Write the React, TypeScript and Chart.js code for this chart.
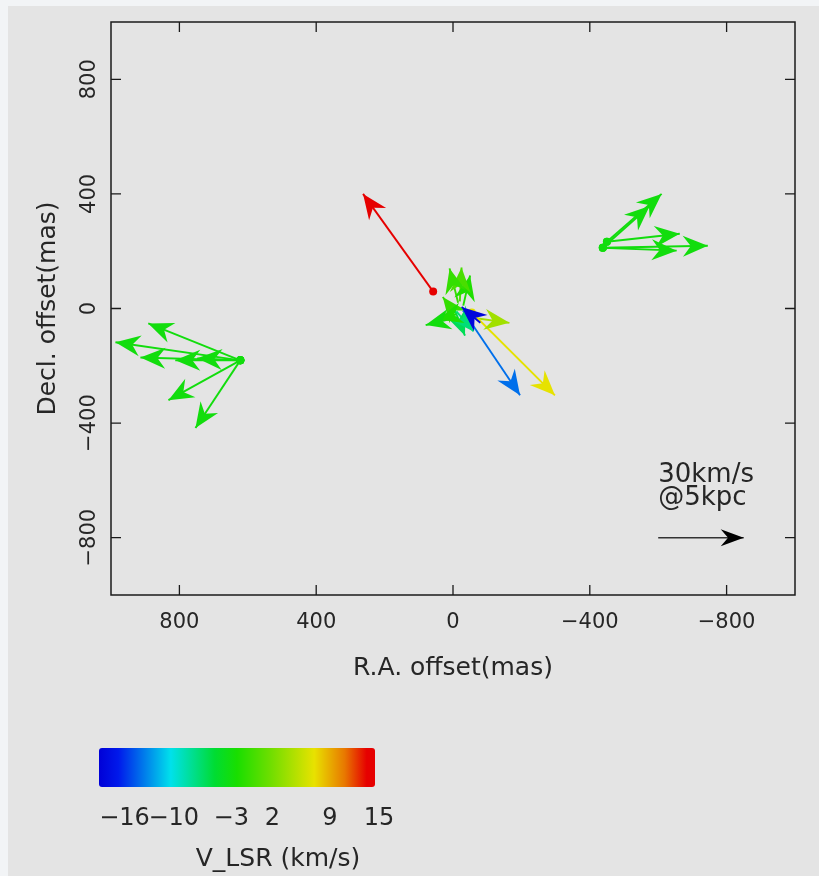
import React, { useEffect, useRef } from "react";
import { Chart, registerables } from "chart.js";

Chart.register(...registerables);

// ---------- data ----------
const xTickValues = [800, 400, 0, -400, -800];
const yTickValues = [800, 400, 0, -400, -800];
const axisMin = -1000;
const axisMax = 1000;

// maser proper-motion vectors (mas offsets): start -> end, colour by V_LSR (km/s)
const raStart = [
  -80, -29, -55, -73, -15, -10, -15, -20, -30, -10, -5, -5,
  58,
  622, 622, 622, 622, 622, 622, 622,
  -450, -438, -450, -438, -438,
];
const decStart = [
  -50, -7, -14, -35, -30, -20, 20, 25, 10, -10, -5, -15,
  59,
  -181, -181, -181, -181, -181, -181, -181,
  233, 212, 233, 212, 212,
];
const raEnd = [
  -25, -196, -298, -165, 80, 45, 10, -25, -50, -60, -35, 30,
  263,
  891, 987, 914, 812, 748, 832, 753,
  -610, -575, -663, -745, -654,
];
const decEnd = [
  5, -303, -303, -50, -58, -38, 140, 143, 115, -80, -95, 40,
  400,
  -52, -118, -171, -181, -174, -320, -417,
  400, 358, 261, 219, 202,
];
const vlsr = [
  -18.5, -14, 7, 4, -3, -2, -1, 0, -2, -7, -6, -1,
  13.5,
  -3, -3, -3, -3, -3, -3, -3,
  -3, -3, -3, -3, -3,
];
const hasDot = [
  false, false, true, false, false, false, false, false, false, false, false, false,
  true,
  true, true, true, true, true, true, true,
  true, true, true, true, true,
];

// reference arrow: 30 km/s at 5 kpc
const scaleRa = [-600, -850];
const scaleDec = [-800, -800];
const scaleLabel = ["30km/s", "@5kpc"];

// colour bar
const cbTicks = [-16, -10, -3, 2, 9, 15];
const cbMin = -19.1;
const cbMax = 14.5;
const cbTitle = "V_LSR (km/s)";
const xTitle = "R.A. offset(mas)";
const yTitle = "Decl. offset(mas)";

// ---------- styling helpers ----------
const FONT = '"DejaVu Sans", "Liberation Sans", sans-serif';
const TEXT = "#262626";

const cmapStops: [number, number, number, number][] = [
  [0.0, 0, 0, 215],
  [0.07, 0, 25, 235],
  [0.26, 0, 225, 235],
  [0.42, 0, 220, 50],
  [0.5, 25, 222, 0],
  [0.62, 110, 222, 0],
  [0.78, 232, 226, 0],
  [0.89, 232, 120, 0],
  [0.97, 230, 0, 0],
  [1.0, 230, 0, 0],
];

function cmap(t: number): string {
  const tt = Math.max(0, Math.min(1, t));
  for (let i = 1; i < cmapStops.length; i++) {
    const a = cmapStops[i - 1];
    const b = cmapStops[i];
    if (tt <= b[0]) {
      const f = (tt - a[0]) / (b[0] - a[0] || 1);
      const r = Math.round(a[1] + (b[1] - a[1]) * f);
      const g = Math.round(a[2] + (b[2] - a[2]) * f);
      const bl = Math.round(a[3] + (b[3] - a[3]) * f);
      return `rgb(${r},${g},${bl})`;
    }
  }
  return "rgb(230,0,0)";
}
const velColor = (v: number) => cmap((v - cbMin) / (cbMax - cbMin));
const fmt = (v: number) => (v < 0 ? "\u2212" + Math.abs(v) : String(v));

function drawHead(
  ctx: CanvasRenderingContext2D,
  x0: number, y0: number, x1: number, y1: number,
  color: string, len: number, half: number
) {
  const a = Math.atan2(y1 - y0, x1 - x0);
  const ux = Math.cos(a), uy = Math.sin(a);
  const nx = -uy, ny = ux;
  const bx = x1 - ux * len, by = y1 - uy * len;
  const mx = x1 - ux * len * 0.68, my = y1 - uy * len * 0.68;
  ctx.beginPath();
  ctx.moveTo(x1, y1);
  ctx.lineTo(bx + nx * half, by + ny * half);
  ctx.lineTo(mx, my);
  ctx.lineTo(bx - nx * half, by - ny * half);
  ctx.closePath();
  ctx.fillStyle = color;
  ctx.fill();
}

const decorPlugin = {
  id: "decor",
  beforeDraw(chart: any) {
    const { ctx, width, height } = chart;
    ctx.save();
    ctx.fillStyle = "#f2f4f6";
    ctx.fillRect(0, 0, width, height);
    ctx.fillStyle = "#e4e4e4";
    ctx.fillRect(8, 6, width - 8, height - 6);
    ctx.restore();
  },
  afterDatasetsDraw(chart: any) {
    const { ctx } = chart;
    const xs = chart.scales.x;
    const ys = chart.scales.y;
    const dsets = chart.data.datasets;
    ctx.save();
    for (let i = dsets.length - 1; i >= 0; i--) {
      const ds = dsets[i];
      const d = ds.data;
      const x0 = xs.getPixelForValue(d[0].x);
      const y0 = ys.getPixelForValue(d[0].y);
      const x1 = xs.getPixelForValue(d[1].x);
      const y1 = ys.getPixelForValue(d[1].y);
      drawHead(ctx, x0, y0, x1, y1, ds.headColor, ds.isScale ? 23 : 25, ds.isScale ? 8.5 : 10.5);
    }
    ctx.restore();
  },
  afterDraw(chart: any) {
    const { ctx, chartArea: ca } = chart;
    const xs = chart.scales.x;
    const ys = chart.scales.y;
    ctx.save();
    // frame
    ctx.strokeStyle = "#1a1a1a";
    ctx.lineWidth = 1.5;
    ctx.strokeRect(ca.left, ca.top, ca.right - ca.left, ca.bottom - ca.top);
    // inward ticks
    const tl = 10;
    ctx.lineWidth = 1.3;
    ctx.beginPath();
    xs.ticks.forEach((t: any) => {
      const px = xs.getPixelForValue(t.value);
      ctx.moveTo(px, ca.bottom); ctx.lineTo(px, ca.bottom - tl);
      ctx.moveTo(px, ca.top); ctx.lineTo(px, ca.top + tl);
    });
    ys.ticks.forEach((t: any) => {
      const py = ys.getPixelForValue(t.value);
      ctx.moveTo(ca.left, py); ctx.lineTo(ca.left + tl, py);
      ctx.moveTo(ca.right, py); ctx.lineTo(ca.right - tl, py);
    });
    ctx.stroke();

    // tick labels
    ctx.fillStyle = TEXT;
    ctx.font = `21px ${FONT}`;
    ctx.textAlign = "center";
    ctx.textBaseline = "alphabetic";
    xs.ticks.forEach((t: any) => {
      ctx.fillText(fmt(t.value), xs.getPixelForValue(t.value), ca.bottom + 33);
    });
    ys.ticks.forEach((t: any) => {
      ctx.save();
      ctx.translate(ca.left - 16, ys.getPixelForValue(t.value));
      ctx.rotate(-Math.PI / 2);
      ctx.fillText(fmt(t.value), 0, 0);
      ctx.restore();
    });

    // axis titles
    ctx.font = `25px ${FONT}`;
    ctx.fillText(xTitle, (ca.left + ca.right) / 2, ca.bottom + 80);
    ctx.save();
    ctx.translate(ca.left - 56, (ca.top + ca.bottom) / 2);
    ctx.rotate(-Math.PI / 2);
    ctx.fillText(yTitle, 0, 0);
    ctx.restore();

    // scale-arrow label
    const sx = xs.getPixelForValue(scaleRa[0]);
    const sy = ys.getPixelForValue(scaleDec[0]);
    ctx.font = `26px ${FONT}`;
    ctx.textAlign = "left";
    ctx.fillText(scaleLabel[0], sx, sy - 56);
    ctx.fillText(scaleLabel[1], sx, sy - 33);

    // colour bar
    const cbx0 = 99, cbx1 = 375, cby0 = 748, cby1 = 787;
    const grad = ctx.createLinearGradient(cbx0, 0, cbx1, 0);
    cmapStops.forEach((s) => grad.addColorStop(s[0], `rgb(${s[1]},${s[2]},${s[3]})`));
    ctx.fillStyle = grad;
    ctx.beginPath();
    if ((ctx as any).roundRect) (ctx as any).roundRect(cbx0, cby0, cbx1 - cbx0, cby1 - cby0, 3);
    else ctx.rect(cbx0, cby0, cbx1 - cbx0, cby1 - cby0);
    ctx.fill();
    ctx.fillStyle = TEXT;
    ctx.font = `24px ${FONT}`;
    ctx.textAlign = "center";
    cbTicks.forEach((v) => {
      const px = cbx0 + ((v - cbMin) / (cbMax - cbMin)) * (cbx1 - cbx0);
      ctx.fillText(fmt(v), px, 825);
    });
    ctx.font = `25px ${FONT}`;
    ctx.fillText(cbTitle, 278, 866);
    ctx.restore();
  },
};

export default function App() {
  const ref = useRef<HTMLCanvasElement | null>(null);

  useEffect(() => {
    if (!ref.current) return;
    const datasets: any[] = raStart.map((_, i) => {
      const c = velColor(vlsr[i]);
      return {
        data: [
          { x: raStart[i], y: decStart[i] },
          { x: raEnd[i], y: decEnd[i] },
        ],
        showLine: true,
        borderColor: c,
        borderWidth: 1.9,
        pointRadius: [hasDot[i] ? 4 : 0, 0],
        pointBackgroundColor: c,
        pointBorderWidth: 0,
        headColor: c,
        isScale: false,
      };
    });
    datasets.push({
      data: [
        { x: scaleRa[0], y: scaleDec[0] },
        { x: scaleRa[1], y: scaleDec[1] },
      ],
      showLine: true,
      borderColor: "#333333",
      borderWidth: 1.5,
      pointRadius: 0,
      headColor: "#000000",
      isScale: true,
    });

    const chart = new Chart(ref.current, {
      type: "scatter",
      data: { datasets },
      options: {
        animation: false,
        responsive: false,
        maintainAspectRatio: false,
        events: [],
        layout: { padding: { top: 22, right: 24, left: 0, bottom: 0 } },
        plugins: { legend: { display: false }, tooltip: { enabled: false } },
        scales: {
          x: {
            type: "linear",
            min: axisMin,
            max: axisMax,
            reverse: true,
            grid: { display: false, drawTicks: false },
            border: { display: false },
            ticks: { display: false },
            afterBuildTicks: (s: any) => {
              s.ticks = xTickValues.map((v) => ({ value: v }));
            },
            afterFit: (s: any) => {
              s.height = 281;
            },
          },
          y: {
            type: "linear",
            min: axisMin,
            max: axisMax,
            grid: { display: false, drawTicks: false },
            border: { display: false },
            ticks: { display: false },
            afterBuildTicks: (s: any) => {
              s.ticks = yTickValues.map((v) => ({ value: v }));
            },
            afterFit: (s: any) => {
              s.width = 111;
            },
          },
        },
      } as any,
      plugins: [decorPlugin],
    });
    return () => chart.destroy();
  }, []);

  return (
    <div style={{ position: "fixed", left: 0, top: 0, width: 819, height: 876 }}>
      <canvas ref={ref} width={819} height={876} style={{ width: 819, height: 876, display: "block" }} />
    </div>
  );
}
